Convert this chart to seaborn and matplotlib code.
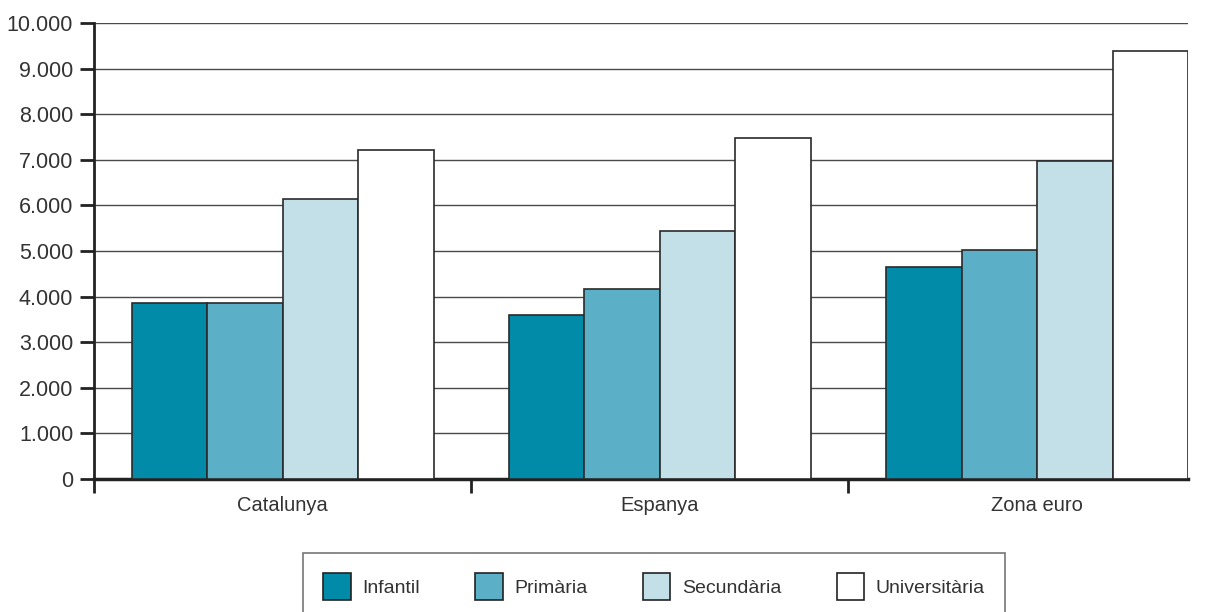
import pandas as pd
import matplotlib.pyplot as plt
import seaborn as sns
from matplotlib.ticker import FixedLocator, FuncFormatter

# data
regions = ["Catalunya", "Espanya", "Zona euro"]
levels = ["Infantil", "Primària", "Secundària", "Universitària"]
infantil = [3860, 3600, 4640]
primaria = [3860, 4160, 5030]
secundaria = [6140, 5430, 6980]
universitaria = [7210, 7470, 9380]
yticks = [0, 1000, 2000, 3000, 4000, 5000, 6000, 7000, 8000, 9000, 10000]

colors = ["#028BA8", "#5BB0C7", "#C3DFE7", "#FFFFFF"]

rows = []
for lvl, vals in zip(levels, [infantil, primaria, secundaria, universitaria]):
    for r, v in zip(regions, vals):
        rows.append({"region": r, "nivell": lvl, "valor": v})
df = pd.DataFrame(rows)

sns.set_style("white")
plt.rcParams['font.family'] = ['Liberation Sans', 'DejaVu Sans']

fig = plt.figure(figsize=(12.16, 6.12), dpi=100)
ax = fig.add_axes([94/1216, 1-479/612, (1188-94)/1216, (479-23)/612])

sns.barplot(data=df, x="region", y="valor", hue="nivell", order=regions,
            hue_order=levels, palette=colors, saturation=1, width=0.8,
            edgecolor="#2a2a2a", linewidth=1.2, ax=ax, legend=True, zorder=3)

ax.set_xlim(-0.5, 2.4)
ax.set_ylim(0, 10000)
ax.set_yticks(yticks)
ax.yaxis.set_major_formatter(FuncFormatter(lambda v, p: f"{int(v):,}".replace(",", ".")))
ax.grid(axis="y", color="#4a4a4a", linewidth=1.0, zorder=0)
ax.set_axisbelow(True)

for s in ["top", "right"]:
    ax.spines[s].set_visible(False)
ax.spines["left"].set_color("#222222")
ax.spines["left"].set_linewidth(2)
ax.spines["bottom"].set_color("#222222")
ax.spines["bottom"].set_linewidth(2.5)

ax.set_xlabel("")
ax.set_ylabel("")
ax.tick_params(axis="y", left=True, length=10, width=2, color="#222222", labelsize=15.5,
               labelcolor="#333333", pad=5)
ax.tick_params(axis="x", which="major", bottom=True, length=0, labelsize=14.5,
               labelcolor="#333333", pad=12)
ax.xaxis.set_minor_locator(FixedLocator([-0.5, 0.5, 1.5]))
ax.tick_params(axis="x", which="minor", bottom=True, length=10, width=2, color="#222222")

handles, labels = ax.get_legend_handles_labels()
ax.get_legend().remove()
leg = fig.legend(handles, labels, loc="upper center", bbox_to_anchor=(654/1216, 1-553/612),
                 ncol=4, frameon=True, fancybox=False, edgecolor="#555555",
                 handlelength=1.4, handleheight=1.75, handletextpad=0.6,
                 columnspacing=2.85, borderpad=1.05, borderaxespad=0,
                 prop={"size": 14})
leg.get_frame().set_linewidth(1.2)
for t in leg.get_texts():
    t.set_color("#333333")
for h in leg.legend_handles:
    h.set_edgecolor("#222222")
    h.set_linewidth(1.2)

fig.savefig("out.png", dpi=100)
